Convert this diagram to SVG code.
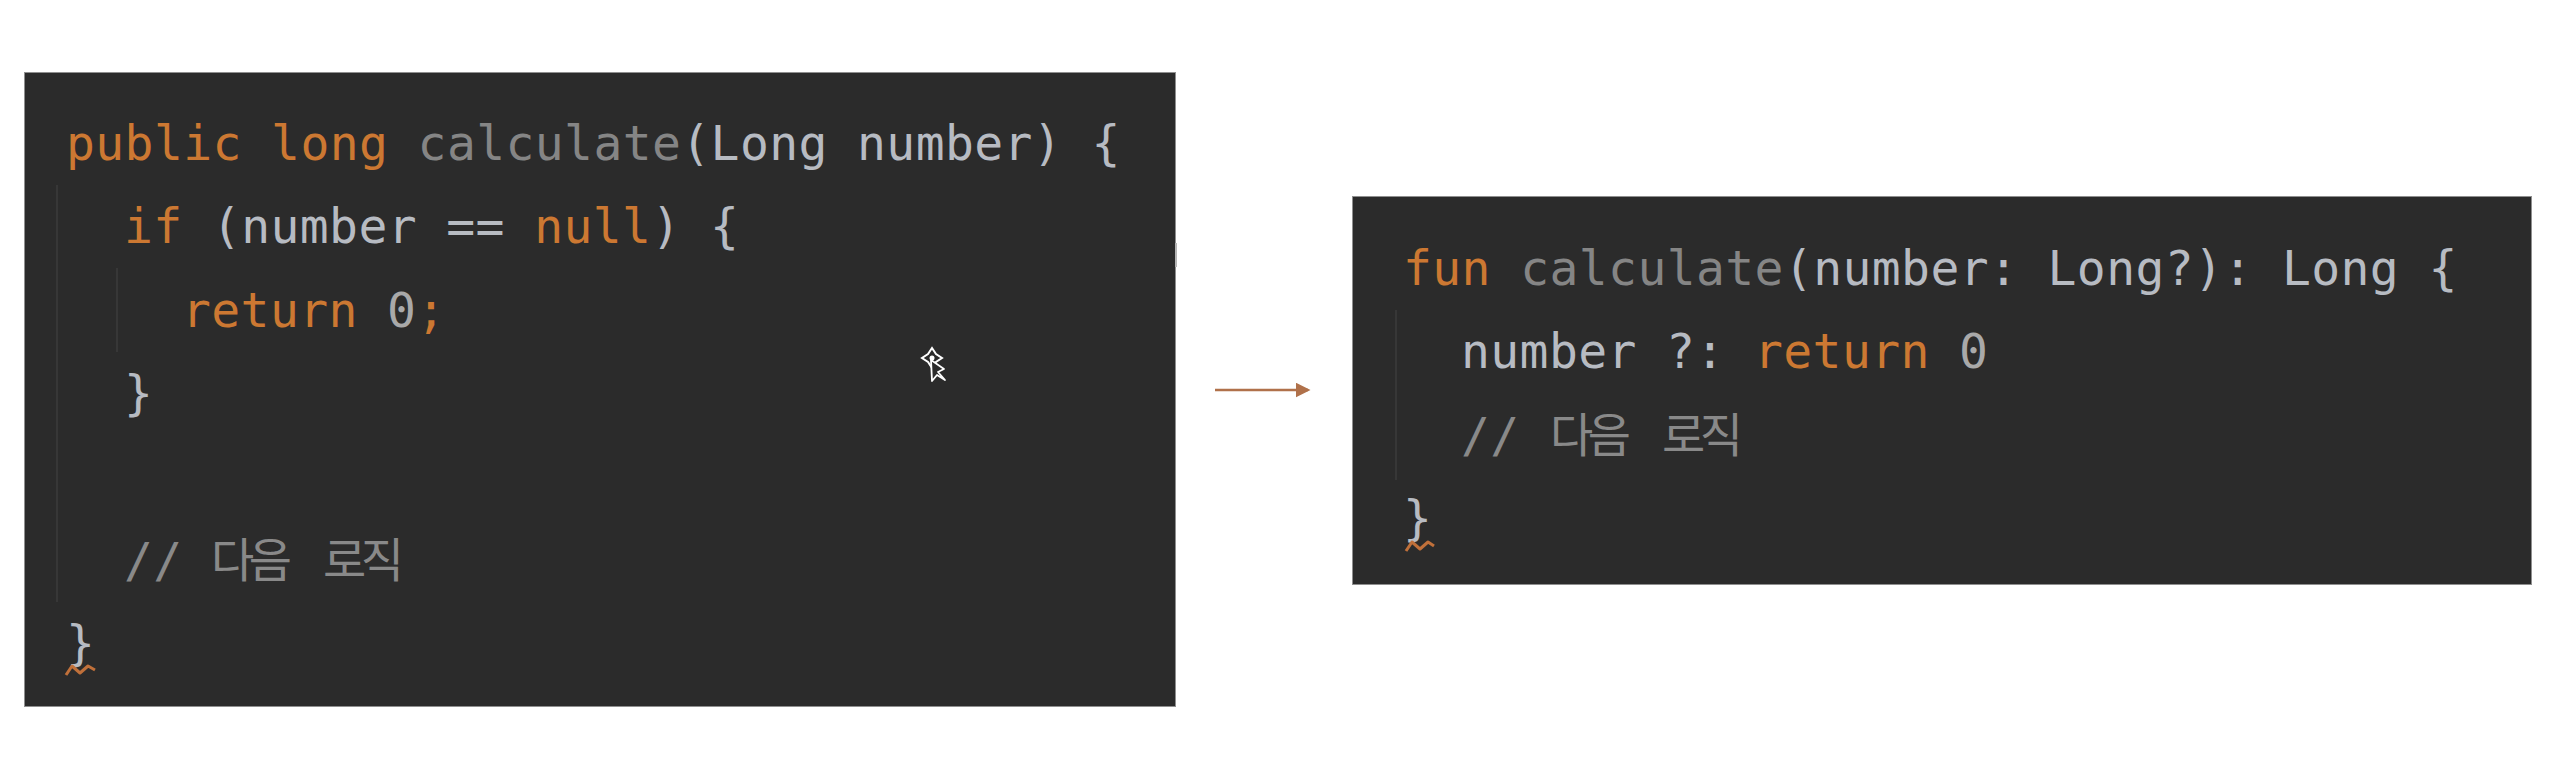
<svg xmlns="http://www.w3.org/2000/svg" width="2552" height="760" viewBox="0 0 2552 760">
<style>
.panel{fill:#2b2b2b;stroke:#8f8f8f;stroke-width:1}
.code{font-family:"DejaVu Sans Mono","Liberation Mono","Noto Sans CJK KR",monospace;font-size:48px;letter-spacing:0.4px;fill:#b7bbc2;stroke:currentColor;stroke-width:0}
.kw{fill:#cc7832}
.fn{fill:#858585}
.num{fill:#a9a9a9}
.cm{fill:#898989}
.ko{font-family:"Noto Sans CJK KR","DejaVu Sans",sans-serif;font-size:47px;letter-spacing:-5.5px}
.guide{stroke:#3d3d3d;stroke-width:1.5}
.squig{fill:none;stroke:#c0703a;stroke-width:3;stroke-linejoin:round}
.conn{stroke:#b0714a;stroke-width:2.5;fill:none}
</style>
<defs>
<marker id="ah" markerWidth="6" markerHeight="6" refX="5" refY="3" orient="auto" markerUnits="strokeWidth">
<path d="M0,0 L6,3 L0,6 Z" fill="#b0714a"/>
</marker>
</defs>
<rect width="2552" height="760" fill="#ffffff"/>

<g id="java-panel">
<rect class="panel" x="24.5" y="72.5" width="1151" height="634"/>
<line x1="1176" y1="243" x2="1176" y2="267" stroke="#b5b5b5" stroke-width="2"/>
<line class="guide" x1="57" y1="185" x2="57" y2="602"/>
<line class="guide" x1="117" y1="268" x2="117" y2="352"/>
<text class="code" x="66" y="160"><tspan class="kw">public long </tspan><tspan class="fn">calculate</tspan>(Long number) {</text>
<text class="code" x="124" y="243"><tspan class="kw">if</tspan> (number == <tspan class="kw">null</tspan>) {</text>
<text class="code" x="182" y="327"><tspan class="kw">return </tspan><tspan class="num">0</tspan><tspan class="kw">;</tspan></text>
<text class="code" x="124" y="410">}</text>
<text class="code cm" x="124" y="577">//<tspan class="ko" x="211">다음</tspan><tspan class="ko" x="323">로직</tspan></text>
<text class="code" x="66" y="660">}</text>
<path class="squig" d="M66,675 L72,666 L80,673 L88,666 L95,670"/>
<g id="cursor">
<path d="M932,348 L936,354 L942,358 L936,362 L932,368 L928,362 L922,358 L928,354 Z" fill="#2b2b2b" stroke="#ffffff" stroke-width="2"/>
<circle cx="932" cy="358" r="2.5" fill="#ffffff"/>
<path d="M931,360 L932,381 L937,375 L945,380 L938,372 L944,369 Z" fill="#2b2b2b" stroke="#ffffff" stroke-width="1.8" stroke-linejoin="round"/>
</g>
</g>

<g id="kotlin-panel">
<rect class="panel" x="1352.5" y="196.5" width="1179" height="388"/>
<line class="guide" x1="1396" y1="310" x2="1396" y2="480"/>
<text class="code" x="1403" y="285"><tspan class="kw">fun </tspan><tspan class="fn">calculate</tspan>(number: Long?): Long {</text>
<text class="code" x="1461" y="368">number ?: <tspan class="kw">return </tspan><tspan class="num">0</tspan></text>
<text class="code cm" x="1461" y="452">//<tspan class="ko" x="1550">다음</tspan><tspan class="ko" x="1662">로직</tspan></text>
<text class="code" x="1403" y="535">}</text>
<path class="squig" d="M1406,551 L1412,542 L1420,549 L1428,542 L1434,546"/>
</g>

<g id="connectors">
<line class="conn" x1="1215" y1="390" x2="1308" y2="390" marker-end="url(#ah)"/>
</g>
</svg>
